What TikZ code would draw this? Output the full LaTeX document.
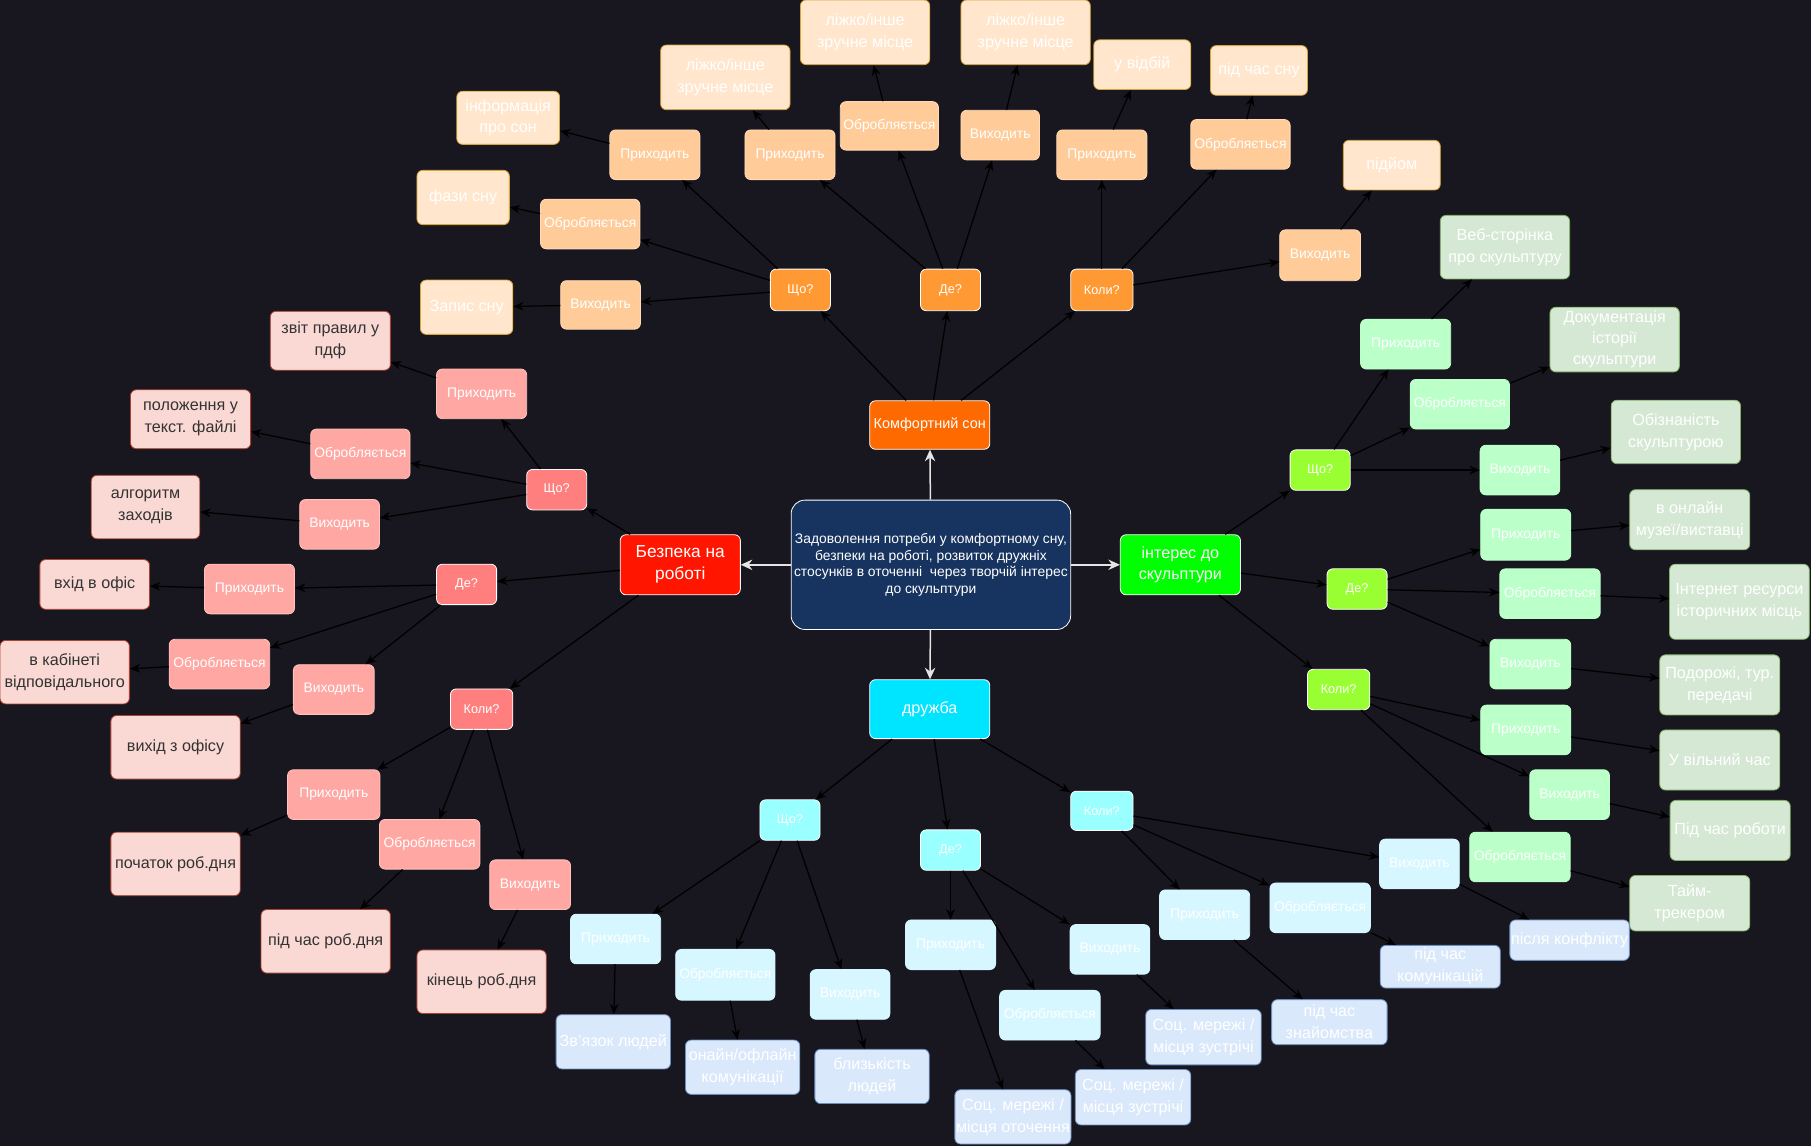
\documentclass[tikz,border=0pt]{standalone}
\usepackage{fontspec}
\setmainfont{Liberation Sans}
\usetikzlibrary{arrows.meta}
\newcommand\fsz[2]{\fontsize{#1}{#2}\selectfont}
\definecolor{bg}{HTML}{18161E}
\definecolor{ctr}{HTML}{17335F}
\definecolor{mS}{HTML}{FF6A00}
\definecolor{mB}{HTML}{FF1500}
\definecolor{mI}{HTML}{00FF00}
\definecolor{mD}{HTML}{00E5FF}
\definecolor{sl2}{HTML}{FF9933}
\definecolor{sl3}{HTML}{FFCC99}
\definecolor{sl4}{HTML}{FFE6CC}
\definecolor{sl4b}{HTML}{D6A636}
\definecolor{rd2}{HTML}{FF7F7F}
\definecolor{rd3}{HTML}{FFA8A3}
\definecolor{rd4}{HTML}{FAD9D5}
\definecolor{rd4b}{HTML}{AE4132}
\definecolor{txd}{HTML}{333333}
\definecolor{gr2}{HTML}{99FF33}
\definecolor{gr3}{HTML}{BBFFC9}
\definecolor{gr4}{HTML}{D5E8D4}
\definecolor{gr4b}{HTML}{82B366}
\definecolor{cy2}{HTML}{99FFFF}
\definecolor{cy3}{HTML}{D6F7FF}
\definecolor{cy4}{HTML}{DAE8FC}
\definecolor{cy4b}{HTML}{6C8EBF}
\tikzset{
  base/.style={rectangle, rounded corners=5pt, inner sep=1pt, align=center, text=white, line width=0.7pt},
  mainbox/.style={base, draw=white, font=\fsz{14}{17}},
  lvtwo/.style={base, draw=white, font=\fsz{11}{13}},
  lvthree/.style={base, draw=white!85!black, font=\fsz{12}{14}},
  lvfour/.style={base, font=\fsz{14}{19}},
  o2/.style={lvtwo, fill=sl2}, o3/.style={lvthree, fill=sl3, draw=sl3!70!white}, o4/.style={lvfour, fill=sl4, draw=sl4b},
  r2/.style={lvtwo, fill=rd2}, r3/.style={lvthree, fill=rd3, draw=rd3!70!white}, r4/.style={lvfour, fill=rd4, draw=rd4b, text=txd},
  g2/.style={lvtwo, fill=gr2}, g3/.style={lvthree, fill=gr3, draw=gr3}, g4/.style={lvfour, fill=gr4, draw=gr4b},
  c2/.style={lvtwo, fill=cy2}, c3/.style={lvthree, fill=cy3, draw=cy3}, c4/.style={lvfour, fill=cy4, draw=cy4b},
  arr/.style={draw=black, line width=1.1pt, -{Stealth[length=9pt,width=7.5pt]}},
  warr/.style={draw=white!90!black, line width=1.3pt, -{Stealth[length=10pt,width=9pt]}}
}
\newcommand\bx[6]{\node[#1, minimum width=#4, minimum height=#5] (#2) at (#3) {#6};}
\begin{document}
\begin{tikzpicture}[x=1pt,y=-1pt]
\useasboundingbox (0,0) rectangle (1568,992);
\fill[bg] (0,0) rectangle (1568,992);
% center
\node[base, fill=ctr, draw=white, rounded corners=12pt, minimum width=242, minimum height=112, font=\fsz{12}{14.5}] (C) at (806,489)
 {Задоволення потреби у комфортному сну,\\безпеки на роботі, розвиток дружніх\\стосунків в оточенні\ \ через творчій інтерес\\до скульптури};
\bx{mainbox, fill=mS, font=\fsz{12.5}{15}}{S}{805,368}{104}{42}{Комфортний сон}
\bx{mainbox, fill=mB, font=\fsz{15}{19}}{B}{589,489}{104}{52}{Безпека на\\роботі}
\bx{mainbox, fill=mI, font=\fsz{14}{18}}{I}{1022,489}{104}{52}{інтерес до\\скульптури}
\bx{mainbox, fill=mD}{D}{805,614}{104}{51}{дружба}
\draw[warr] (C) -- (S);
\draw[warr] (C) -- (B);
\draw[warr] (C) -- (I);
\draw[warr] (C) -- (D);
% ===== sleep
\bx{o2}{sQ}{693,251}{52}{36}{Що?}
\bx{o2}{sD}{823,251}{52}{36}{Де?}
\bx{o2}{sK}{954,251}{54}{36}{Коли?}
\bx{o3}{sQa}{567,134}{78}{43}{Приходить}
\bx{o3}{sQb}{511,194}{86}{43}{Обробляється}
\bx{o3}{sQc}{520,264}{69}{42}{Виходить}
\bx{o4}{sQat}{440,102}{89}{46}{інформація\\про сон}
\bx{o4}{sQbt}{401,171}{80}{47}{фази сну}
\bx{o4}{sQct}{404,266}{80}{47}{Запис сну}
\bx{o3}{sDa}{684,134}{78}{43}{Приходить}
\bx{o3}{sDb}{770,109}{85}{42}{Обробляється}
\bx{o3}{sDc}{866,117}{68}{43}{Виходить}
\bx{o4}{sDat}{628,67}{112}{56}{ліжко/інше\\зручне місце}
\bx{o4}{sDbt}{749,28}{112}{56}{ліжко/інше\\зручне місце}
\bx{o4}{sDct}{888,28}{112}{56}{ліжко/інше\\зручне місце}
\bx{o3}{sKa}{954,134}{78}{43}{Приходить}
\bx{o3}{sKb}{1074,125}{86}{43}{Обробляється}
\bx{o3}{sKc}{1143,221}{70}{44}{Виходить}
\bx{o4}{sKat}{989,56}{84}{43}{у відбій}
\bx{o4}{sKbt}{1090,61}{84}{43}{під час сну}
\bx{o4}{sKct}{1205,143}{84}{43}{підйом}
% ===== safety
\bx{r2}{bQ}{482,424}{52}{35}{Що?}
\bx{r2}{bD}{404,506}{52}{35}{Де?}
\bx{r2}{bK}{417,614}{54}{35}{Коли?}
\bx{r3}{bQa}{417,341}{78}{43}{Приходить}
\bx{r3}{bQb}{312,393}{86}{43}{Обробляється}
\bx{r3}{bQc}{294,454}{69}{43}{Виходить}
\bx{r4}{bQat}{286,295}{104}{51}{звіт правил у\\пдф}
\bx{r4}{bQbt}{165,363}{104}{51}{положення у\\текст. файлі}
\bx{r4}{bQct}{126,439}{94}{55}{алгоритм\\заходів}
\bx{r3}{bDa}{216,510}{78}{43}{Приходить}
\bx{r3}{bDb}{190,575}{87}{43}{Обробляється}
\bx{r3}{bDc}{289,597}{70}{43}{Виходить}
\bx{r4}{bDat}{82,506}{95}{43}{вхід в офіс}
\bx{r4}{bDbt}{56,582}{112}{55}{в кабінеті\\відповідального}
\bx{r4}{bDct}{152,647}{112}{55}{вихід з офісу}
\bx{r3}{bKa}{289,688}{80}{43}{Приходить}
\bx{r3}{bKb}{372,731}{87}{43}{Обробляється}
\bx{r3}{bKc}{459,766}{70}{43}{Виходить}
\bx{r4}{bKat}{152,748}{112}{55}{початок роб.дня}
\bx{r4}{bKbt}{282,815}{112}{55}{під час роб.дня}
\bx{r4}{bKct}{417,850}{112}{55}{кінець роб.дня}
% ===== sculpture
\bx{g2}{iQ}{1143,407}{52}{35}{Що?}
\bx{g2}{iD}{1175,510}{52}{35}{Де?}
\bx{g2}{iK}{1159,597}{54}{35}{Коли?}
\bx{g3}{iQa}{1217,298}{78}{43}{Приходить}
\bx{g3}{iQb}{1264,350}{86}{43}{Обробляється}
\bx{g3}{iQc}{1316,407}{69}{43}{Виходить}
\bx{g4}{iQat}{1303,214}{112}{55}{Веб-сторінка\\про скульптуру}
\bx{g4, font=\fsz{14}{18}}{iQbt}{1398,294}{112}{56}{Документація\\історії\\скульптури}
\bx{g4}{iQct}{1451,374}{112}{55}{Обізнаність\\скульптурою}
\bx{g3}{iDa}{1321,463}{78}{44}{Приходить}
\bx{g3}{iDb}{1342,514}{87}{43}{Обробляється}
\bx{g3}{iDc}{1325,575}{70}{43}{Виходить}
\bx{g4}{iDat}{1463,450}{104}{52}{в онлайн\\музеї/виставці}
\bx{g4}{iDbt}{1506,521}{121}{65}{Інтернет ресурси\\історичних місць}
\bx{g4}{iDct}{1489,593}{104}{52}{Подорожі, тур.\\передачі}
\bx{g3}{iKa}{1321,632}{78}{43}{Приходить}
\bx{g3}{iKb}{1359,688}{69}{43}{Виходить}
\bx{g3}{iKc}{1316,742}{87}{43}{Обробляється}
\bx{g4}{iKat}{1489,658}{104}{52}{У вільний час}
\bx{g4}{iKbt}{1498,719}{104}{52}{Під час роботи}
\bx{g4}{iKct}{1463,782}{104}{48}{Тайм-\\трекером}
% ===== friendship
\bx{c2}{dQ}{684,710}{52}{35}{Що?}
\bx{c2}{dD}{823,736}{52}{35}{Де?}
\bx{c2}{dK}{954,702}{54}{34}{Коли?}
\bx{c3}{dQa}{533,813}{78}{43}{Приходить}
\bx{c3}{dQb}{628,844}{86}{44}{Обробляється}
\bx{c3}{dQc}{736,861}{69}{43}{Виходить}
\bx{c4}{dQat}{531,902}{99}{47}{Зв'язок людей}
\bx{c4}{dQbt}{643,924}{99}{47}{онайн/офлайн\\комунікації}
\bx{c4}{dQct}{755,932}{99}{47}{близькість\\людей}
\bx{c3}{dDa}{823,818}{78}{43}{Приходить}
\bx{c3}{dDb}{909,879}{87}{43}{Обробляється}
\bx{c3}{dDc}{961,822}{69}{43}{Виходить}
\bx{c4}{dDat}{877,967}{100}{47}{Соц. мережі /\\місця оточення}
\bx{c4}{dDbt}{981,950}{100}{48}{Соц. мережі /\\місця зустрічі}
\bx{c4}{dDct}{1042,898}{100}{48}{Соц. мережі /\\місця зустрічі}
\bx{c3}{dKa}{1043,792}{78}{43}{Приходить}
\bx{c3}{dKb}{1143,786}{87}{43}{Обробляється}
\bx{c3}{dKc}{1229,748}{69}{43}{Виходить}
\bx{c4}{dKat}{1151,885}{100}{39}{під час\\знайомства}
\bx{c4}{dKbt}{1247,837}{104}{37}{під час\\комунікацій}
\bx{c4}{dKct}{1359,814}{103}{35}{після конфлікту}
% ===== connectors
\foreach \p/\q in {S/sQ,S/sD,S/sK,B/bQ,B/bD,B/bK,I/iQ,I/iD,I/iK,D/dQ,D/dD,D/dK}
  \draw[arr] (\p) -- (\q);
\foreach \g in {sQ,sD,sK,bQ,bD,bK,iQ,iD,iK,dQ,dD,dK}{
  \foreach \k in {a,b,c}{
    \draw[arr] (\g) -- (\g\k);
    \draw[arr] (\g\k) -- (\g\k t);
  }
}
\end{tikzpicture}
\end{document}
